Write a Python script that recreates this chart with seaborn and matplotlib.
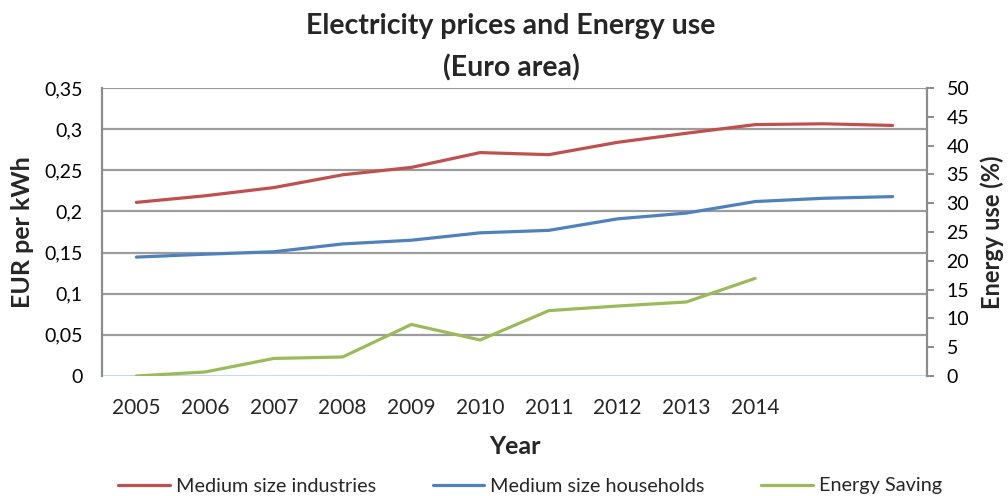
import matplotlib
matplotlib.use("Agg")
import matplotlib.pyplot as plt
import seaborn as sns
import pandas as pd
import numpy as np

years = ["2005", "2006", "2007", "2008", "2009", "2010", "2011", "2012", "2013", "2014", "", ""]
industries = [0.211, 0.219, 0.229, 0.2445, 0.2535, 0.2715, 0.269, 0.284, 0.295, 0.3055, 0.3065, 0.3045]
households = [0.1445, 0.148, 0.151, 0.1605, 0.165, 0.174, 0.177, 0.191, 0.198, 0.212, 0.216, 0.218]
energy_saving = [0.0, 0.7, 3.05, 3.3, 8.95, 6.25, 11.35, 12.15, 12.85, 16.95]
y_left_ticks = [0, 0.05, 0.1, 0.15, 0.2, 0.25, 0.3, 0.35]
y_left_labels = ["0", "0,05", "0,1", "0,15", "0,2", "0,25", "0,3", "0,35"]
y_right_ticks = [0, 5, 10, 15, 20, 25, 30, 35, 40, 45, 50]

sns.set_theme(style="white", rc={"ytick.major.size": 5, "ytick.major.width": 1.4})
plt.rcParams['font.family'] = ['Lato', 'DejaVu Sans']

fig = plt.figure(figsize=(10.08, 4.96), dpi=100)
ax = fig.add_axes([102/1008, 1-376/496, (927-102)/1008, (376-88)/496])

pos = np.arange(len(years))
df = pd.DataFrame({"x": pos, "ind": industries, "hh": households})
df_es = pd.DataFrame({"x": pos[:len(energy_saving)], "es": energy_saving})

red = "#c0504d"; blue = "#4f81bd"; green = "#9bbb59"
sns.lineplot(data=df, x="x", y="ind", ax=ax, color=red, lw=2.3, label="Medium size industries", legend=False)
sns.lineplot(data=df, x="x", y="hh", ax=ax, color=blue, lw=2.3, label="Medium size households", legend=False)

ax2 = ax.twinx()
sns.lineplot(data=df_es, x="x", y="es", ax=ax2, color=green, lw=2.3, label="Energy Saving", legend=False)

ax.set_xlim(-0.5, len(years) - 0.5)
ax.set_ylim(0, 0.35)
ax2.set_ylim(0, 50)
ax.set_yticks(y_left_ticks)
ax.set_yticklabels(y_left_labels)
ax2.set_yticks(y_right_ticks)
ax.set_xticks(pos)
ax.set_xticklabels(years)

for y in y_left_ticks[1:]:
    ax.axhline(y, color="#9c9c9c", lw=1.6, zorder=0)
ax.set_axisbelow(True)

for a in (ax, ax2):
    a.spines["top"].set_visible(False)
    a.spines["bottom"].set_visible(False)
ax.spines["right"].set_visible(False)
ax2.spines["left"].set_visible(False)
ax.spines["left"].set_color("#8c8c8c")
ax.spines["left"].set_linewidth(1.6)
ax2.spines["right"].set_color("#8c8c8c")
ax2.spines["right"].set_linewidth(1.6)
ax.axhline(0, color="#bdd7ee", lw=2.0, zorder=1)

ax.tick_params(axis="y", left=False, right=False, labelsize=14, pad=9, colors="#000000")
ax.tick_params(axis="x", bottom=False, labelsize=15, pad=10)
ax2.yaxis.set_tick_params(which="major", right=True, left=False, direction="out", length=5, width=1.4,
                          color="#8c8c8c", labelcolor="#000000", labelsize=14, pad=9)

ax.set_xlabel("Year", fontsize=18, fontweight="bold", labelpad=12)
ax.set_ylabel("EUR per kWh", fontsize=18, fontweight="bold", labelpad=7)
ax2.set_ylabel("Energy use (%)", fontsize=17, fontweight="bold", labelpad=8)

fig.text(511/1008, 1-26/496, "Electricity prices and Energy use", fontsize=20.5, fontweight="bold", ha="center", va="center")
fig.text(511/1008, 1-68/496, "(Euro area)", fontsize=20.5, fontweight="bold", ha="center", va="center")

h1, l1 = ax.get_legend_handles_labels()
h2, l2 = ax2.get_legend_handles_labels()
fig.legend(h1 + h2, l1 + l2, loc="center", bbox_to_anchor=(530/1008, 1-486/496), ncol=3, frameon=False,
           fontsize=14.3, handlelength=2.6, handletextpad=0.3, columnspacing=2.85)

fig.savefig("out.png", dpi=100)
